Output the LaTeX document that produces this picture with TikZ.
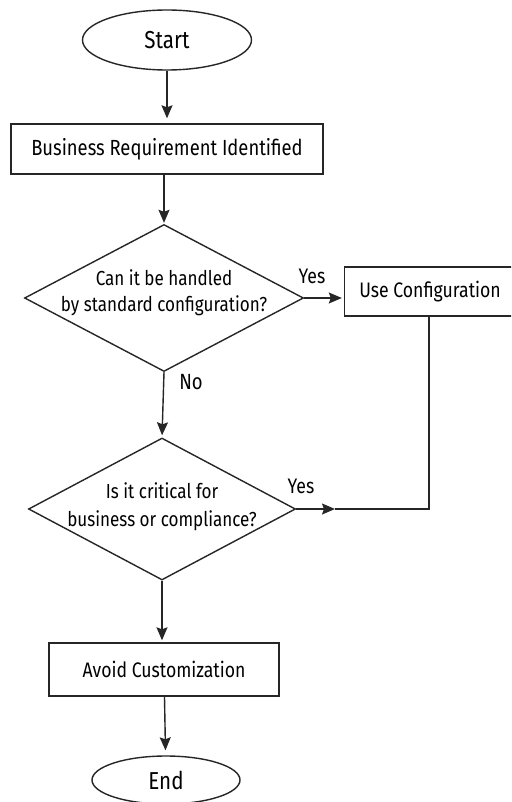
\documentclass[tikz,border=0pt]{standalone}
\usepackage{fontspec}
\setmainfont[FakeStretch=0.84]{Fira Sans}
\usetikzlibrary{shapes.geometric,arrows.meta}

\tikzset{
  flow/.style={line width=1.4pt, draw=black!85},
  terminal/.style={flow, ellipse, inner sep=0pt, font=\fontsize{24.5}{28}\selectfont},
  process/.style={flow, rectangle, inner sep=0pt, font=\fontsize{21}{24}\selectfont},
  decision/.style={flow, diamond, inner sep=0pt},
  question/.style={inner sep=0pt, align=center},
  conn/.style={flow, -{Stealth[length=13pt,width=11pt,inset=2pt]}},
  link/.style={flow},
  lbl/.style={inner sep=0pt, font=\fontsize{21}{24}\selectfont},
}

\begin{document}
\begin{tikzpicture}[x=1pt, y=-1pt]
  \clip (0,0) rectangle (511,802);
  \fill[white] (0,0) rectangle (511,802);

  % nodes
  \node[terminal, minimum width=169pt, minimum height=60pt] (start) at (167,40) {Start};
  \node[process, minimum width=312pt, minimum height=50pt, font=\fontsize{21.9}{24}\selectfont] (biz) at (167,149) {Business Requirement Identified};
  \node[decision, minimum width=279pt, minimum height=147pt] (q1) at (164,298) {};
  \node[question, font=\fontsize{20.3}{26}\selectfont] (q1text) at (164,293) {Can it be handled\\by standard configuration?};
  \node[process, minimum width=171pt, minimum height=49pt] (cfg) at (430,291.5) {Use Configuration};
  \node[decision, minimum width=267pt, minimum height=142pt] (q2) at (162,509) {};
  \node[question, font=\fontsize{20.3}{28}\selectfont] (q2text) at (162,507) {Is it critical for\\business or compliance?};
  \node[process, minimum width=230pt, minimum height=53pt] (avoid) at (164,669.5) {Avoid Customization};
  \node[terminal, minimum width=148pt, minimum height=48pt] (end) at (166,780) {End};
  \coordinate (join) at (335,509);

  % connectors
  \draw[conn, shorten >=5pt] (start) -- (biz);
  \draw[conn, shorten >=1pt] (biz.south -| q1.north) -- (q1.north);
  \draw[conn, shorten >=2pt] (q1.east) -- (cfg.west |- q1.east);
  \draw[conn, shorten >=2pt] (q1.south) -- (q2.north);
  \draw[conn] (q2.east) -- (join);
  \draw[link] (cfg.south -| 429,0) |- (join);
  \draw[conn, shorten >=2pt] (q2.south) -- (q2.south |- avoid.north);
  \draw[conn, shorten >=5pt] (avoid) -- (end);

  % branch labels
  \node[lbl] (yes1) at (312,276) {Yes};
  \node[lbl, font=\fontsize{22}{24}\selectfont] (no1) at (191,382) {No};
  \node[lbl] (yes2) at (301,486) {Yes};
\end{tikzpicture}
\end{document}
